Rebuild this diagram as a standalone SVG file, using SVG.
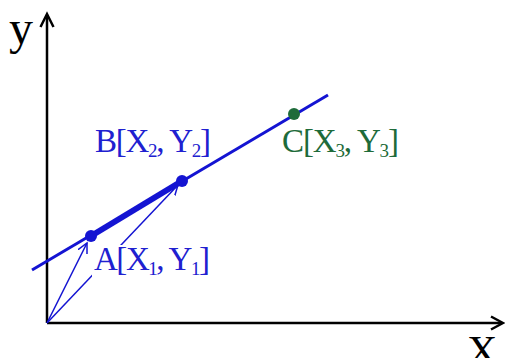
<svg xmlns="http://www.w3.org/2000/svg" width="505" height="358" viewBox="0 0 505 358">
<defs>
<style>
.axis{stroke:#000;stroke-width:2.5;fill:none}
.blue{stroke:#1414d2;fill:none}
.lbl{font-family:"Liberation Serif","Times New Roman",serif;font-size:33px}
.sub{font-size:19px}
</style>
<marker id="vh" markerWidth="12" markerHeight="12" refX="10" refY="5" orient="auto" markerUnits="userSpaceOnUse" viewBox="0 0 12 10">
<path d="M0,0 L10,5 L0,10" fill="none" stroke="#1414d2" stroke-width="1.5"/>
</marker>
</defs>
<rect width="505" height="358" fill="#fff"/>
<g id="axes">
<line class="axis" x1="47" y1="323" x2="47" y2="15"/>
<polyline class="axis" points="40.5,27 47,14 53.5,27"/>
<line class="axis" x1="47" y1="323" x2="502" y2="323"/>
<polyline class="axis" points="491,316.5 503,323 491,329.5"/>
<text x="9" y="44" font-family="Liberation Serif, serif" font-size="48">y</text>
<text x="467" y="365" font-family="Liberation Serif, serif" font-size="42">X</text>
</g>
<g id="connectors">
<line class="blue" stroke-width="3" x1="32" y1="270" x2="328" y2="95"/>
<line class="blue" stroke-width="6" x1="91" y1="236" x2="182" y2="181"/>
<line class="blue" stroke-width="1.5" x1="47" y1="323" x2="87" y2="243" marker-end="url(#vh)"/>
<line class="blue" stroke-width="1.5" x1="47" y1="323" x2="178" y2="185" marker-end="url(#vh)"/>
</g>
<g id="A">
<circle cx="91" cy="236" r="6" fill="#1414d2"/>
<rect x="92" y="245" width="122" height="34" fill="#fff"/>
<text class="lbl" x="94" y="270" fill="#2020d0" textLength="116" lengthAdjust="spacing">A[X<tspan class="sub" dy="5">1</tspan><tspan dy="-5">, Y</tspan><tspan class="sub" dy="5">1</tspan><tspan dy="-5">]</tspan></text>
</g>
<g id="B">
<circle cx="182" cy="181" r="6" fill="#1414d2"/>
<text class="lbl" x="95" y="152" fill="#2020d0" textLength="116" lengthAdjust="spacing">B[X<tspan class="sub" dy="5">2</tspan><tspan dy="-5">, Y</tspan><tspan class="sub" dy="5">2</tspan><tspan dy="-5">]</tspan></text>
</g>
<g id="C">
<circle cx="294" cy="114" r="6" fill="#1e6b3a"/>
<text class="lbl" x="282" y="152" fill="#1e6b3a" textLength="117" lengthAdjust="spacing">C[X<tspan class="sub" dy="5">3</tspan><tspan dy="-5">, Y</tspan><tspan class="sub" dy="5">3</tspan><tspan dy="-5">]</tspan></text>
</g>
</svg>
